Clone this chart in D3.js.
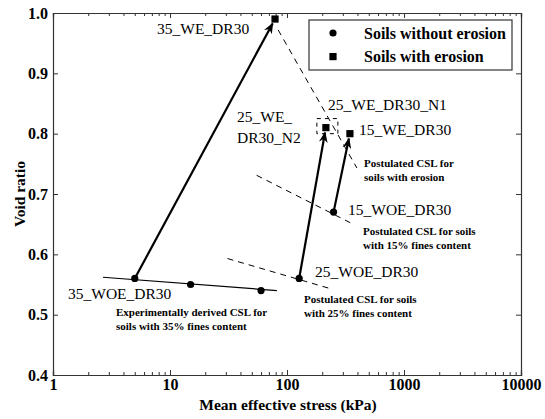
<!DOCTYPE html>
<html>
<head>
<meta charset="utf-8">
<script src="https://cdn.jsdelivr.net/npm/d3@7"></script>
<style>
  html, body { margin: 0; padding: 0; background: #fff; }
</style>
</head>
<body>
<svg id="chart" width="545" height="419"></svg>
<script>
// Test states: mean effective stress (kPa) and void ratio
const withoutErosionStress = [5, 15, 60, 127, 250];
const withoutErosionVoid   = [0.56, 0.55, 0.54, 0.56, 0.67];
const withErosionStress    = [79, 215, 345];
const withErosionVoid      = [0.99, 0.81, 0.80];

// Label for each state (null = unlabelled)
const withoutErosionLabels = ["35_WOE_DR30", null, null, "25_WOE_DR30", "15_WOE_DR30"];

// Erosion paths: index into "without" -> index into "with"
const erosionFrom = [0, 3, 4];
const erosionTo   = [0, 1, 2];

// Critical state lines (endpoints: stress, void ratio)
const csl35Stress = [2.67, 82];   const csl35Void = [0.562, 0.540];
const csl25Stress = [31, 236];    const csl25Void = [0.593, 0.543];
const csl15Stress = [55, 359];    const csl15Void = [0.731, 0.651];
const cslEroStress = [84, 396];   const cslEroVoid = [0.972, 0.743];

// Grouping box around the 25% eroded specimens
const boxStress = [180, 272];
const boxVoid = [0.800, 0.825];

const xTickValues = [1, 10, 100, 1000, 10000];
const yTickValues = [0.4, 0.5, 0.6, 0.7, 0.8, 0.9, 1.0];

const FONT = '"Liberation Serif"';
const svg = d3.select("#chart");
const x = d3.scaleLog().domain([1, 10000]).range([53, 521]);
const y = d3.scaleLinear().domain([0.4, 1.0]).range([375, 13]);
const axisColor = "#333";

// Minor ticks on the log axis (2..9 within each decade)
const minorTicks = x.ticks().filter(v => !xTickValues.includes(v));

// Bottom axis
const gB = svg.append("g").attr("transform", `translate(0,${y(0.4)})`);
gB.call(d3.axisBottom(x).tickValues(xTickValues).tickSize(-5).tickPadding(6).tickFormat(d3.format("d")));
gB.append("g").call(d3.axisBottom(x).tickValues(minorTicks).tickSize(-3).tickFormat(""));
// Top axis
const gT = svg.append("g").attr("transform", `translate(0,${y(1.0)})`);
gT.call(d3.axisTop(x).tickValues(xTickValues).tickSize(-5).tickFormat(""));
gT.append("g").call(d3.axisTop(x).tickValues(minorTicks).tickSize(-3).tickFormat(""));
// Left axis
const gL = svg.append("g").attr("transform", `translate(${x(1)},0)`);
gL.call(d3.axisLeft(y).tickValues(yTickValues).tickSize(-5).tickPadding(6).tickFormat(d3.format(".1f")));
// Right axis
const gR = svg.append("g").attr("transform", `translate(${x(10000)},0)`);
gR.call(d3.axisRight(y).tickValues(yTickValues).tickSize(-5).tickFormat(""));

svg.selectAll(".domain").attr("stroke", axisColor).attr("stroke-width", 1.2);
svg.selectAll(".tick line").attr("stroke", axisColor);
svg.selectAll(".tick text")
  .style("font-family", FONT).style("font-size", "16px").style("font-weight", "bold")
  .attr("fill", "#000");
gB.selectAll(".tick text").attr("dy", "0.71em").attr("y", 4);
gL.selectAll(".tick text").attr("x", -5);

// Axis titles
svg.append("text")
  .attr("x", 288).attr("y", 410).attr("text-anchor", "middle")
  .style("font-family", FONT).style("font-size", "15.5px").style("font-weight", "bold")
  .text("Mean effective stress (kPa)");
svg.append("text")
  .attr("transform", "translate(25,194) rotate(-90)").attr("text-anchor", "middle")
  .style("font-family", FONT).style("font-size", "15.5px").style("font-weight", "bold")
  .text("Void ratio");

// Critical state lines
const line = d3.line().x(d => x(d[0])).y(d => y(d[1]));
const pairs = (s, v) => s.map((d, i) => [d, v[i]]);
svg.append("path").attr("d", line(pairs(csl35Stress, csl35Void)))
  .attr("stroke", "#000").attr("stroke-width", 1.2).attr("fill", "none");
[[csl25Stress, csl25Void], [csl15Stress, csl15Void], [cslEroStress, cslEroVoid]].forEach(([s, v]) => {
  svg.append("path").attr("d", line(pairs(s, v)))
    .attr("stroke", "#000").attr("stroke-width", 1).attr("stroke-dasharray", "6,5").attr("fill", "none");
});

// Dashed grouping box
svg.append("rect")
  .attr("x", x(boxStress[0])).attr("y", y(boxVoid[1]))
  .attr("width", x(boxStress[1]) - x(boxStress[0]))
  .attr("height", y(boxVoid[0]) - y(boxVoid[1]))
  .attr("fill", "none").attr("stroke", "#000").attr("stroke-width", 1).attr("stroke-dasharray", "4,4");

// Arrow marker
svg.append("defs").append("marker")
  .attr("id", "arrow").attr("viewBox", "0 0 10 10")
  .attr("refX", 9).attr("refY", 5)
  .attr("markerWidth", 5).attr("markerHeight", 5)
  .attr("markerUnits", "strokeWidth")
  .attr("orient", "auto")
  .append("path").attr("d", "M0,1 L10,5 L0,9 L3,5 Z").attr("fill", "#000");

// Erosion arrows
erosionFrom.forEach((fi, k) => {
  const ti = erosionTo[k];
  const x0 = x(withoutErosionStress[fi]), y0 = y(withoutErosionVoid[fi]);
  const x1 = x(withErosionStress[ti]), y1 = y(withErosionVoid[ti]);
  const len = Math.hypot(x1 - x0, y1 - y0), cut = 5;
  svg.append("line")
    .attr("x1", x0).attr("y1", y0)
    .attr("x2", x1 - (x1 - x0) * cut / len).attr("y2", y1 - (y1 - y0) * cut / len)
    .attr("stroke", "#000").attr("stroke-width", 2.2)
    .attr("marker-end", "url(#arrow)");
});

// Markers
svg.selectAll(".pt-woe").data(withoutErosionStress).join("circle")
  .attr("cx", d => x(d)).attr("cy", (d, i) => y(withoutErosionVoid[i]))
  .attr("r", 3.6).attr("fill", "#000");
svg.selectAll(".pt-we").data(withErosionStress).join("rect")
  .attr("x", d => x(d) - 3.6).attr("y", (d, i) => y(withErosionVoid[i]) - 3.6)
  .attr("width", 7.2).attr("height", 7.2).attr("fill", "#000");

// State labels
const big = (t, px, py) => svg.append("text").attr("x", px).attr("y", py)
  .style("font-family", FONT).style("font-size", "15.5px").attr("fill", "#000").text(t);
big("35_WE_DR30", 157, 34);
big("25_WE_", 237, 122);
big("DR30_N2", 237, 143);
big("25_WE_DR30_N1", 328, 110);
big("15_WE_DR30", 359, 135);
big(withoutErosionLabels[4], 348, 215);
big(withoutErosionLabels[3], 315, 277);
big(withoutErosionLabels[0], 68, 299);

// CSL annotations
const note = (lines, px, py) => {
  const t = svg.append("text").attr("x", px).attr("y", py)
    .style("font-family", FONT).style("font-size", "11px").style("font-weight", "bold").attr("fill", "#000");
  lines.forEach((l, i) => t.append("tspan").attr("x", px).attr("dy", i === 0 ? 0 : 14).text(l));
};
note(["Postulated CSL for", "soils with erosion"], 364, 167);
note(["Postulated CSL for soils", "with 15% fines content"], 363, 235);
note(["Postulated CSL for soils", "with 25% fines content"], 304, 303);
note(["Experimentally derived CSL for", "soils with 35% fines content"], 116, 316);

// Legend
const lg = svg.append("g");
lg.append("rect").attr("x", 309).attr("y", 20).attr("width", 203).attr("height", 50)
  .attr("fill", "#fff").attr("stroke", axisColor).attr("stroke-width", 1.2);
lg.append("circle").attr("cx", 333).attr("cy", 33).attr("r", 3.6).attr("fill", "#000");
lg.append("rect").attr("x", 329.4).attr("y", 53).attr("width", 7.2).attr("height", 7.2).attr("fill", "#000");
lg.append("text").attr("x", 364).attr("y", 38.5)
  .style("font-family", FONT).style("font-size", "16px").style("font-weight", "bold").text("Soils without erosion");
lg.append("text").attr("x", 364).attr("y", 62)
  .style("font-family", FONT).style("font-size", "16px").style("font-weight", "bold").text("Soils with erosion");
</script>
</body>
</html>
